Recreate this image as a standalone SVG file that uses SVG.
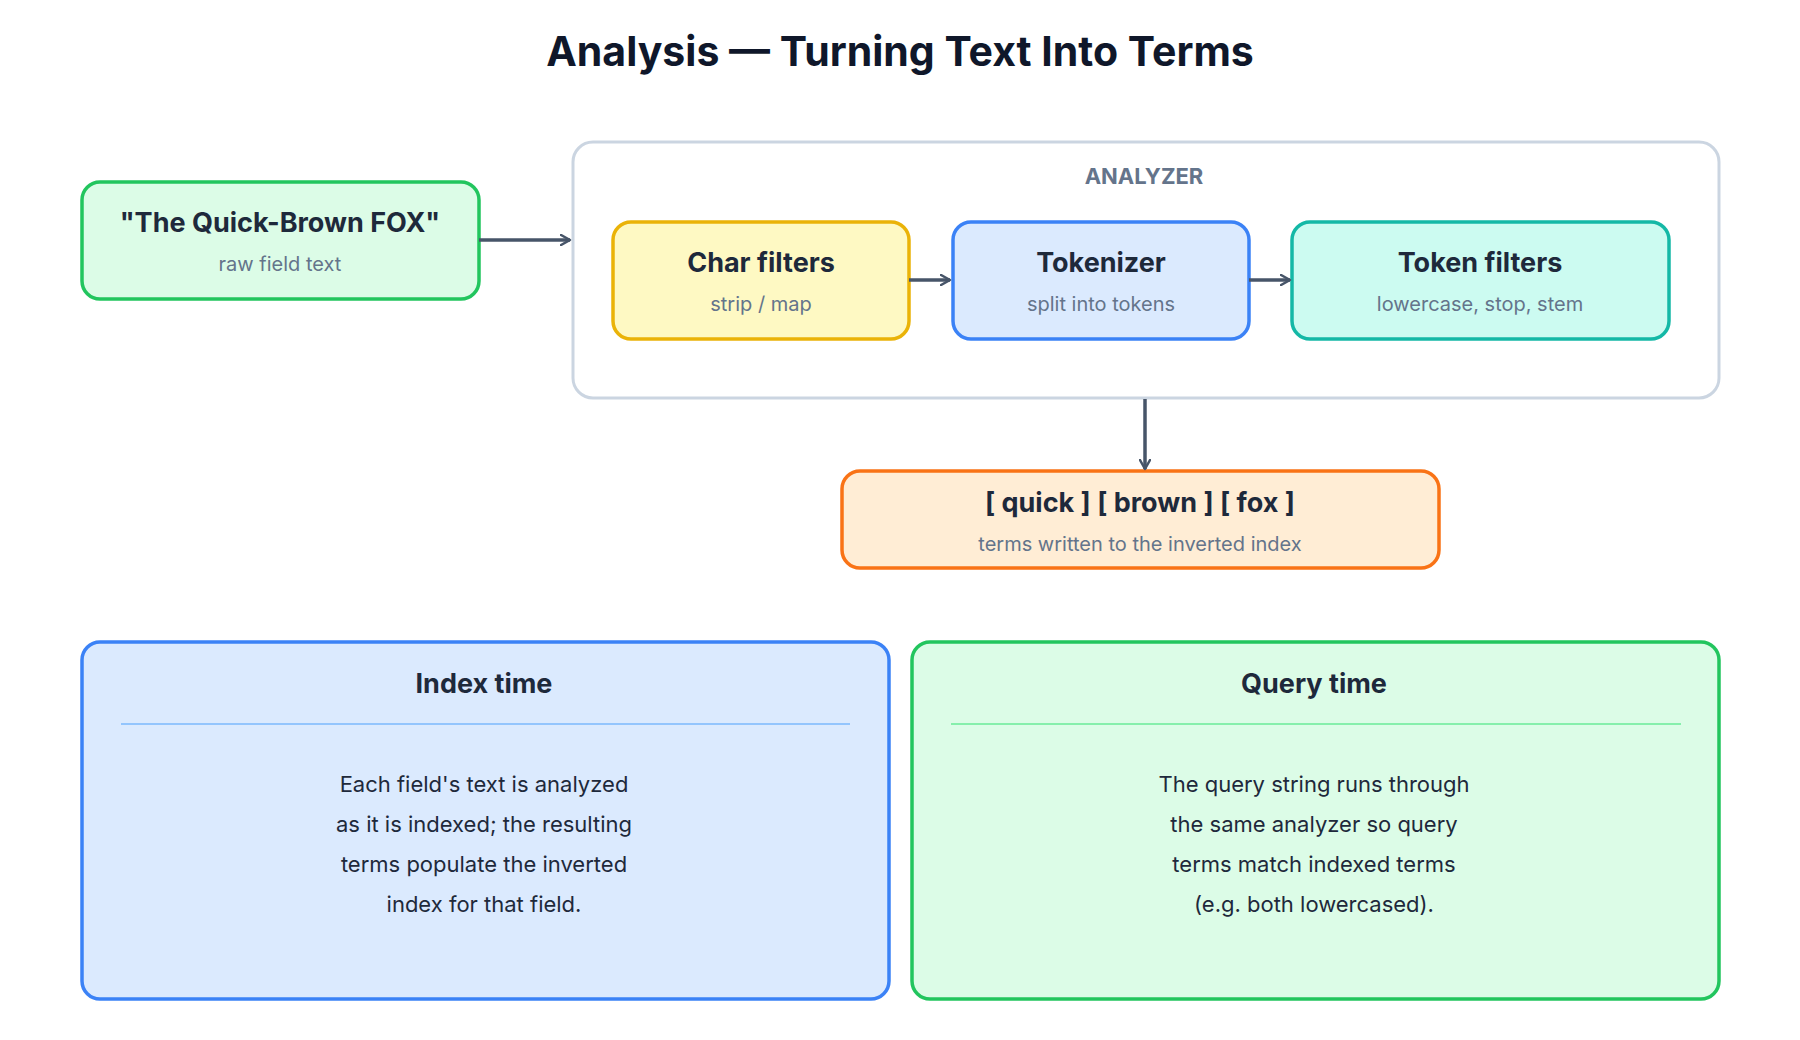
<svg xmlns="http://www.w3.org/2000/svg" width="1800" height="1040" viewBox="0 0 1800 1040">
<defs>
<marker id="ah" viewBox="0 0 12 12" refX="10" refY="6" markerWidth="12" markerHeight="12" markerUnits="userSpaceOnUse" orient="auto"><path d="M1,1 L10,6 L1,11" fill="none" stroke="#475569" stroke-width="2.5" stroke-linecap="round" stroke-linejoin="round"/></marker>
<style>
text{font-family:Inter,"Noto Sans","Liberation Sans",sans-serif;text-anchor:middle}
.t{font-weight:700;fill:#1e293b;font-size:27px}
.s{fill:#64748b;font-size:20px}
.b{fill:#1e293b;font-size:22px}
.c{stroke:#475569;stroke-width:3.5;fill:none;marker-end:url(#ah)}
</style>
</defs>
<rect width="1800" height="1040" fill="#fff"/>
<text x="900" y="66" font-size="41" font-weight="700" fill="#0f172a">Analysis — Turning Text Into Terms</text>
<g id="analyzer"><rect x="573" y="142" width="1146" height="256" rx="20" fill="#fff" stroke="#cbd5e1" stroke-width="3"/><text x="1144" y="184" font-size="22" font-weight="700" fill="#64748b">ANALYZER</text></g>
<g id="input"><rect x="82" y="182" width="397" height="117" rx="18" fill="#dcfce7" stroke="#22c55e" stroke-width="3.5"/><text class="t" x="280" y="232" font-size="24">"The Quick-Brown FOX"</text><text class="s" x="280" y="271" font-size="18">raw field text</text></g>
<g id="char"><rect x="613" y="222" width="296" height="117" rx="18" fill="#fef9c3" stroke="#eab308" stroke-width="3.5"/><text class="t" x="761" y="272">Char filters</text><text class="s" x="761" y="311">strip / map</text></g>
<g id="tok"><rect x="953" y="222" width="296" height="117" rx="18" fill="#dbeafe" stroke="#3b82f6" stroke-width="3.5"/><text class="t" x="1101" y="272">Tokenizer</text><text class="s" x="1101" y="311">split into tokens</text></g>
<g id="tokf"><rect x="1292" y="222" width="377" height="117" rx="18" fill="#ccfbf1" stroke="#14b8a6" stroke-width="3.5"/><text class="t" x="1480" y="272">Token filters</text><text class="s" x="1480" y="311">lowercase, stop, stem</text></g>
<g id="terms"><rect x="842" y="471" width="597" height="97" rx="18" fill="#ffedd5" stroke="#f97316" stroke-width="3.5"/><text class="t" x="1140" y="512">[ quick ] [ brown ] [ fox ]</text><text class="s" x="1140" y="551">terms written to the inverted index</text></g>
<g id="index"><rect x="82" y="642" width="807" height="357" rx="18" fill="#dbeafe" stroke="#3b82f6" stroke-width="3.5"/><text class="t" x="484" y="693" font-size="24">Index time</text><line x1="121" y1="724" x2="850" y2="724" stroke="#93c5fd" stroke-width="2"/>
<text class="b" x="484" y="792">Each field's text is analyzed</text><text class="b" x="484" y="832">as it is indexed; the resulting</text><text class="b" x="484" y="872">terms populate the inverted</text><text class="b" x="484" y="912">index for that field.</text></g>
<g id="query"><rect x="912" y="642" width="807" height="357" rx="18" fill="#dcfce7" stroke="#22c55e" stroke-width="3.5"/><text class="t" x="1314" y="693" font-size="24">Query time</text><line x1="951" y1="724" x2="1681" y2="724" stroke="#86efac" stroke-width="2"/>
<text class="b" x="1314" y="792">The query string runs through</text><text class="b" x="1314" y="832">the same analyzer so query</text><text class="b" x="1314" y="872">terms match indexed terms</text><text class="b" x="1314" y="912">(e.g. both lowercased).</text></g>
<g id="connectors">
<line class="c" x1="479" y1="240" x2="570" y2="240"/>
<line class="c" x1="909" y1="280" x2="950" y2="280"/>
<line class="c" x1="1249" y1="280" x2="1290" y2="280"/>
<line class="c" x1="1145" y1="399" x2="1145" y2="469"/>
</g>
</svg>
